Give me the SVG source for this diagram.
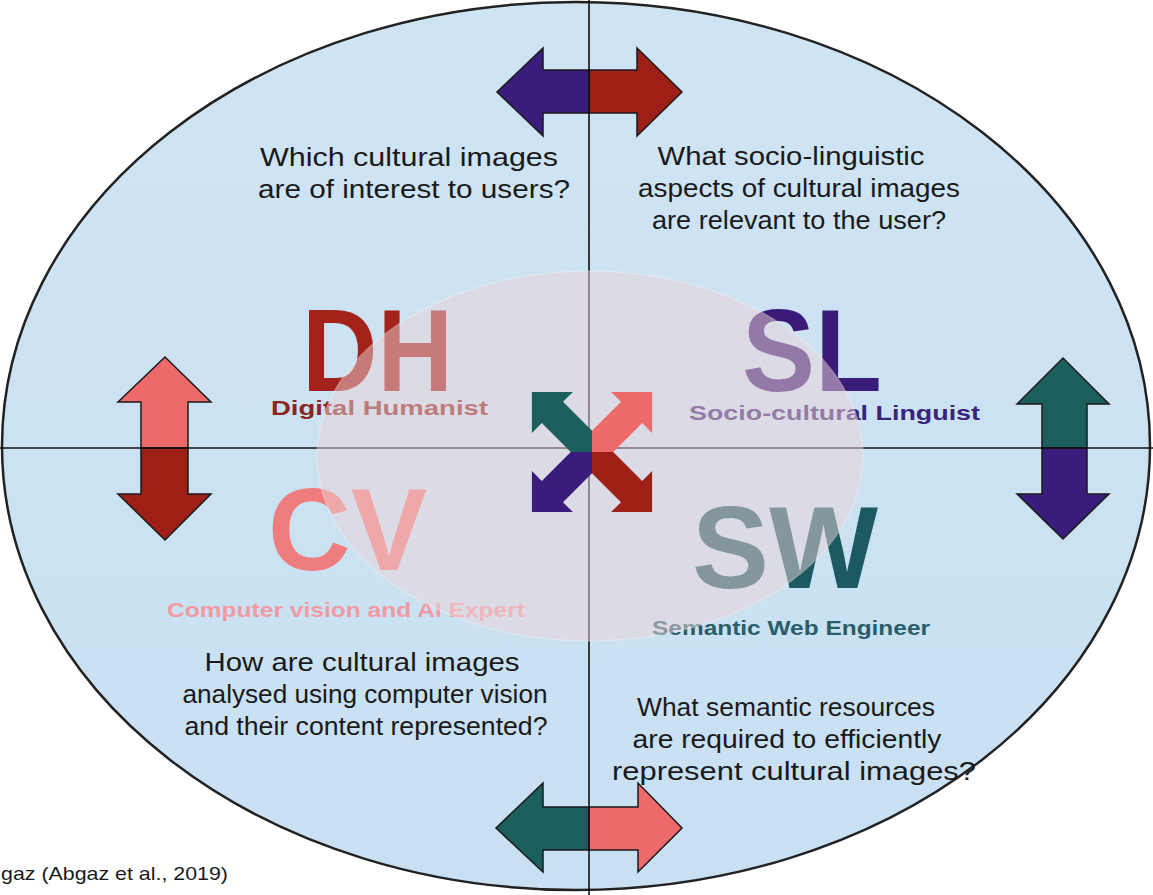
<svg xmlns="http://www.w3.org/2000/svg" width="1153" height="895" viewBox="0 0 1153 895">
  <style>
    .q { font-family: "Liberation Sans", Arial, sans-serif; font-size: 25px; fill: #1a1a1a; }
    .big { font-family: "Liberation Sans", Arial, sans-serif; font-size: 116px; font-weight: bold; }
    .role { font-family: "Liberation Sans", Arial, sans-serif; font-size: 21px; font-weight: bold; }
    .axis { stroke: #111; stroke-width: 1.6; fill: none; }
    .blk { stroke: #1a1a1a; stroke-width: 1.5; stroke-linejoin: miter; }
    .salmon { fill: #ee6a6a; }
    .darkred { fill: #9e1f16; }
    .indigo { fill: #3a1c7a; }
    .teal { fill: #1c5e5e; }
  </style>
  <defs>
    <linearGradient id="rim" x1="0" y1="0" x2="0" y2="1">
      <stop offset="0" stop-color="#cfe4f3"/>
      <stop offset="1" stop-color="#c8e0f2"/>
    </linearGradient>
    <!-- diagonal block arrow pointing along +x from the centre -->
    <polygon id="diag" points="0,0 15,-15 56,-15 56,-29 85,0 56,29 56,15 15,15"/>
  </defs>

  <rect width="1153" height="895" fill="#ffffff"/>

  <!-- outer disc -->
  <g id="disc">
    <ellipse cx="576" cy="446" rx="574" ry="444" fill="url(#rim)" stroke="#222" stroke-width="2.5"/>
  </g>

  <!-- side arrows -->
  <g id="arrow-top">
    <polygon class="indigo blk" points="589,70 543,70 543,48 497,92 543,136 543,113 589,113"/>
    <polygon class="darkred blk" points="589,70 637,70 637,48 682,92 637,136 637,113 589,113"/>
  </g>
  <g id="arrow-bottom">
    <polygon class="teal blk" points="589,807 543,807 543,783 496,828 543,872 543,850 589,850"/>
    <polygon class="salmon blk" points="589,807 638,807 638,783 682,828 638,872 638,850 589,850"/>
  </g>
  <g id="arrow-left">
    <polygon class="salmon blk" points="141,448 141,402 118,402 165,357 211,402 188,402 188,448"/>
    <polygon class="darkred blk" points="141,448 141,494 118,494 165,540 211,494 188,494 188,448"/>
  </g>
  <g id="arrow-right">
    <polygon class="teal blk" points="1042,448 1042,404 1017,404 1063,358 1109,404 1087,404 1087,448"/>
    <polygon class="indigo blk" points="1042,448 1042,494 1017,494 1063,539 1109,494 1087,494 1087,448"/>
  </g>

  <!-- quadrant axes -->
  <g id="axes">
    <line class="axis" x1="0" y1="448" x2="1153" y2="448"/>
    <line class="axis" x1="589" y1="0" x2="589" y2="895"/>
  </g>

  <!-- quadrant questions -->
  <g id="q-dh">
    <text class="q" x="409" y="166" text-anchor="middle" textLength="298" lengthAdjust="spacingAndGlyphs">Which cultural images</text>
    <text class="q" x="414" y="198" text-anchor="middle" textLength="312" lengthAdjust="spacingAndGlyphs">are of interest to users?</text>
  </g>
  <g id="q-sl">
    <text class="q" x="791" y="165" text-anchor="middle" textLength="267" lengthAdjust="spacingAndGlyphs">What socio-linguistic</text>
    <text class="q" x="799" y="197" text-anchor="middle" textLength="322" lengthAdjust="spacingAndGlyphs">aspects of cultural images</text>
    <text class="q" x="799" y="229" text-anchor="middle" textLength="294" lengthAdjust="spacingAndGlyphs">are relevant to the user?</text>
  </g>
  <g id="q-cv">
    <text class="q" x="362" y="671" text-anchor="middle" textLength="315" lengthAdjust="spacingAndGlyphs">How are cultural images</text>
    <text class="q" x="365" y="703" text-anchor="middle" textLength="365" lengthAdjust="spacingAndGlyphs">analysed using computer vision</text>
    <text class="q" x="366" y="735" text-anchor="middle" textLength="363" lengthAdjust="spacingAndGlyphs">and their content represented?</text>
  </g>
  <g id="q-sw">
    <text class="q" x="786" y="716" text-anchor="middle" textLength="298" lengthAdjust="spacingAndGlyphs">What semantic resources</text>
    <text class="q" x="787" y="748" text-anchor="middle" textLength="309" lengthAdjust="spacingAndGlyphs">are required to efficiently</text>
    <text class="q" x="794" y="780" text-anchor="middle" textLength="364" lengthAdjust="spacingAndGlyphs">represent cultural images?</text>
  </g>

  <!-- roles -->
  <g id="role-dh">
    <text class="big" x="302" y="391" fill="#a3221a" textLength="151" lengthAdjust="spacingAndGlyphs">DH</text>
    <text class="role" x="271" y="415" fill="#8e2420" textLength="217" lengthAdjust="spacingAndGlyphs">Digital Humanist</text>
  </g>
  <g id="role-sl">
    <text class="big" x="742" y="391" fill="#3a1c78" textLength="140" lengthAdjust="spacingAndGlyphs">SL</text>
    <text class="role" x="689" y="420" fill="#3a2478" textLength="291" lengthAdjust="spacingAndGlyphs">Socio-cultural Linguist</text>
  </g>
  <g id="role-cv">
    <text class="big" x="268" y="570" fill="#f07d7d" textLength="159" lengthAdjust="spacingAndGlyphs">CV</text>
    <text class="role" x="167" y="617" fill="#f09aa2" textLength="358" lengthAdjust="spacingAndGlyphs">Computer vision and AI Expert</text>
  </g>
  <g id="role-sw">
    <text class="big" x="692" y="588" fill="#1d5a60" textLength="186" lengthAdjust="spacingAndGlyphs">SW</text>
    <text class="role" x="652" y="635" fill="#2a5e68" textLength="278" lengthAdjust="spacingAndGlyphs">Semantic Web Engineer</text>
  </g>

  <!-- translucent centre lens -->
  <g id="lens">
    <ellipse cx="590" cy="456" rx="273" ry="185" fill="#ecd4d8" fill-opacity="0.5" stroke="#ffffff" stroke-opacity="0.25" stroke-width="1.5"/>
  </g>

  <!-- centre cross arrows -->
  <g id="cross" transform="translate(592,452)">
    <use href="#diag" class="teal" transform="rotate(-135)"/>
    <use href="#diag" class="salmon" transform="rotate(-45)"/>
    <use href="#diag" class="indigo" transform="rotate(135)"/>
    <use href="#diag" class="darkred" transform="rotate(45)"/>
  </g>

  <g id="caption">
    <text class="q" x="1" y="880" style="font-size:19px" textLength="227" lengthAdjust="spacingAndGlyphs">gaz (Abgaz et al., 2019)</text>
  </g>
</svg>
